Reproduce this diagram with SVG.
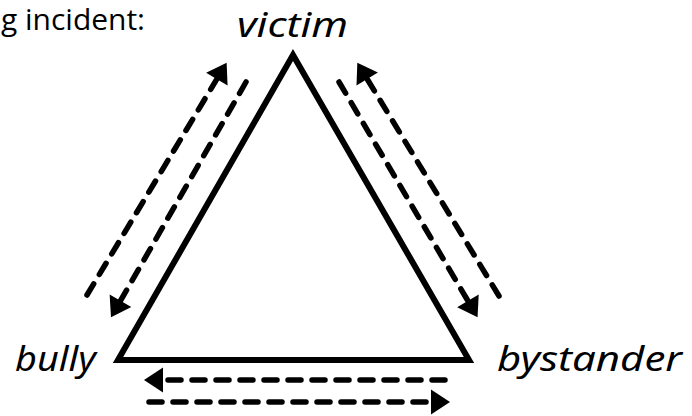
<svg xmlns="http://www.w3.org/2000/svg" width="692" height="416" viewBox="0 0 692 416">
<style>
.hand{font-family:"Noto Sans","DejaVu Sans",sans-serif;font-style:italic;font-size:35px;fill:#000}
.title{font-family:"Open Sans","Noto Sans",sans-serif;font-size:29px;fill:#000}
.tri{fill:#fff;stroke:#000;stroke-width:6;stroke-linejoin:miter}
.dash{fill:none;stroke:#000;stroke-width:5.5;stroke-linecap:round;stroke-dasharray:13 11;marker-end:url(#ah)}
</style>
<defs>
<marker id="ah" markerUnits="userSpaceOnUse" markerWidth="20" markerHeight="26" refX="10" refY="12.5" orient="auto" overflow="visible">
<path d="M0,0 L19,12.5 L0,25 Z" fill="#000" stroke="none"/>
</marker>
</defs>
<rect width="692" height="416" fill="#fff"/>
<text class="title" x="1" y="30" textLength="144" lengthAdjust="spacingAndGlyphs">g incident:</text>
<g id="triangle">
<polygon class="tri" points="118,360 293,55 469,360"/>
</g>
<g id="victim"><text class="hand" x="237" y="37" textLength="111" lengthAdjust="spacingAndGlyphs">victim</text></g>
<g id="bully"><text class="hand" x="15" y="371" textLength="81" lengthAdjust="spacingAndGlyphs">bully</text></g>
<g id="bystander"><text class="hand" x="497" y="371" textLength="185" lengthAdjust="spacingAndGlyphs">bystander</text></g>
<g id="connectors">
<path class="dash" d="M87,295 L222,70.5"/>
<path class="dash" d="M246,82 L115.5,309.5"/>
<path class="dash" d="M339,82 L473,309.5"/>
<path class="dash" d="M499,296 L362,70.5"/>
<path class="dash" d="M445,380 L153,380"/>
<path class="dash" d="M149,402 L441,402"/>
</g>
</svg>
